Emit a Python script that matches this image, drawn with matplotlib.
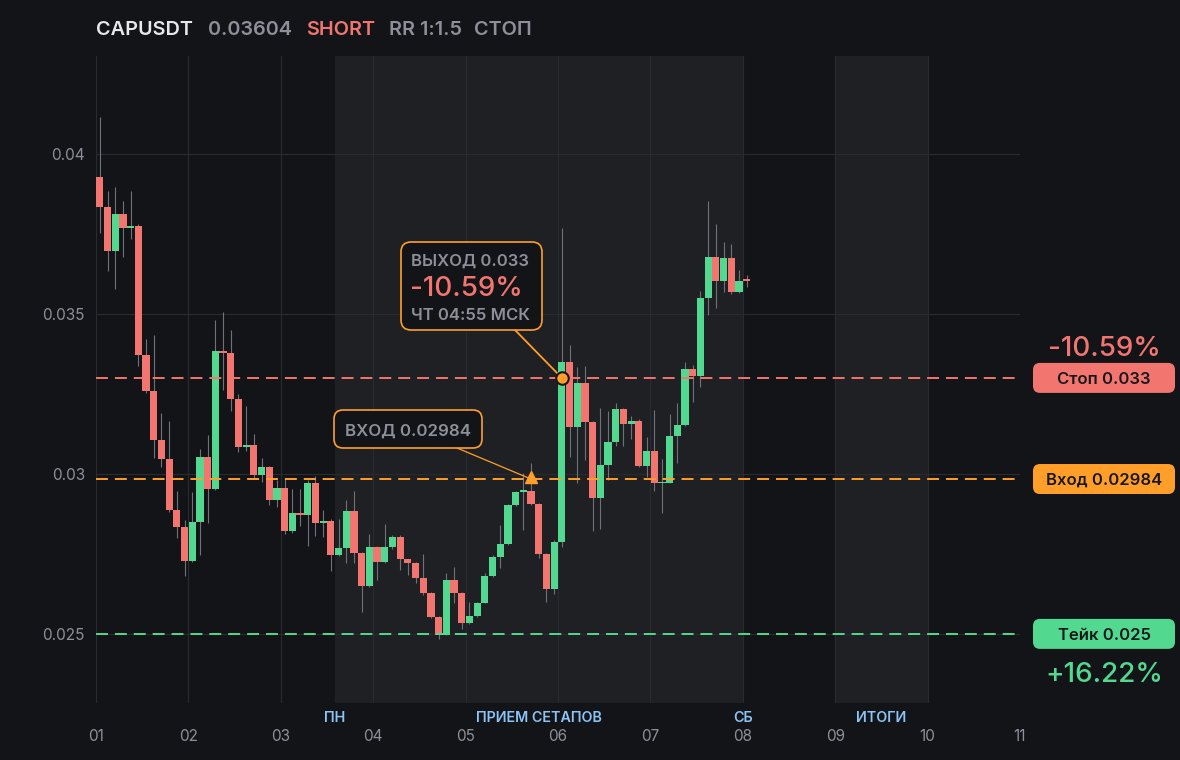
import numpy as np
import matplotlib
matplotlib.use("Agg")
import matplotlib.pyplot as plt
from matplotlib.patches import FancyBboxPatch
from matplotlib.transforms import IdentityTransform

plt.rcParams['font.family'] = ['Inter', 'DejaVu Sans']
plt.rcParams['lines.scale_dashes'] = False

# 2h candles, 12 per day, day 01 starts at x=1
opens = np.array([
    0.03928, 0.03833, 0.03698, 0.03813, 0.03770, 0.03774, 0.03373, 0.03260, 0.03107, 0.03045,
    0.02888, 0.02835, 0.02729, 0.02850, 0.03053, 0.02954, 0.03384, 0.03379, 0.03235, 0.03085,
    0.03091, 0.02997, 0.03022, 0.02917, 0.02956, 0.02820, 0.02878, 0.02870, 0.02972, 0.02848,
    0.02854, 0.02745, 0.02767, 0.02884, 0.02753, 0.02651, 0.02770, 0.02726, 0.02770, 0.02804,
    0.02733, 0.02721, 0.02674, 0.02627, 0.02554, 0.02497, 0.02668, 0.02629, 0.02535, 0.02556,
    0.02598, 0.02681, 0.02741, 0.02781, 0.02903, 0.02944, 0.02947, 0.02906, 0.02751, 0.02641,
    0.02788, 0.03350, 0.03145, 0.03284, 0.03163, 0.02926, 0.03028, 0.03100, 0.03203, 0.03157,
    0.03166, 0.03025, 0.03072, 0.02970, 0.02973, 0.03119, 0.03153, 0.03328, 0.03307, 0.03550,
    0.03678, 0.03604, 0.03675, 0.03570, 0.03608])
highs = np.array([
    0.04116, 0.03884, 0.03898, 0.03853, 0.03884, 0.03781, 0.03422, 0.03434, 0.03191, 0.03166,
    0.02947, 0.02856, 0.02944, 0.03078, 0.03120, 0.03481, 0.03506, 0.03450, 0.03250, 0.03213,
    0.03125, 0.03050, 0.03025, 0.02981, 0.02988, 0.02953, 0.02953, 0.02981, 0.02994, 0.02888,
    0.02860, 0.02859, 0.02919, 0.02945, 0.02755, 0.02812, 0.02775, 0.02843, 0.02808, 0.02808,
    0.02735, 0.02725, 0.02749, 0.02630, 0.02556, 0.02690, 0.02710, 0.02632, 0.02601, 0.02600,
    0.02691, 0.02745, 0.02841, 0.02906, 0.02947, 0.03004, 0.03035, 0.02910, 0.02753, 0.02794,
    0.03768, 0.03403, 0.03334, 0.03338, 0.03166, 0.03205, 0.03197, 0.03222, 0.03206, 0.03181,
    0.03172, 0.03116, 0.03200, 0.03047, 0.03188, 0.03221, 0.03350, 0.03341, 0.03572, 0.03853,
    0.03781, 0.03725, 0.03719, 0.03638, 0.03622])
lows = np.array([
    0.03752, 0.03635, 0.03579, 0.03679, 0.03735, 0.03338, 0.03254, 0.03051, 0.03023, 0.02882,
    0.02801, 0.02682, 0.02725, 0.02745, 0.02845, 0.02950, 0.03263, 0.03195, 0.03067, 0.03072,
    0.02988, 0.02976, 0.02903, 0.02898, 0.02813, 0.02815, 0.02838, 0.02775, 0.02806, 0.02804,
    0.02698, 0.02742, 0.02722, 0.02721, 0.02569, 0.02645, 0.02669, 0.02720, 0.02765, 0.02700,
    0.02684, 0.02658, 0.02622, 0.02550, 0.02483, 0.02495, 0.02596, 0.02515, 0.02532, 0.02553,
    0.02595, 0.02678, 0.02705, 0.02778, 0.02900, 0.02825, 0.02903, 0.02737, 0.02601, 0.02625,
    0.02773, 0.03054, 0.02971, 0.03044, 0.02820, 0.02828, 0.02981, 0.03088, 0.03088, 0.03110,
    0.03020, 0.02991, 0.02948, 0.02877, 0.02970, 0.03035, 0.03150, 0.03226, 0.03270, 0.03498,
    0.03517, 0.03567, 0.03563, 0.03565, 0.03585])
closes = np.array([
    0.03833, 0.03698, 0.03813, 0.03770, 0.03774, 0.03373, 0.03260, 0.03107, 0.03045, 0.02888,
    0.02835, 0.02729, 0.02850, 0.03053, 0.02954, 0.03384, 0.03379, 0.03235, 0.03085, 0.03091,
    0.02997, 0.03022, 0.02917, 0.02956, 0.02820, 0.02878, 0.02870, 0.02972, 0.02848, 0.02854,
    0.02745, 0.02767, 0.02884, 0.02753, 0.02651, 0.02770, 0.02726, 0.02770, 0.02804, 0.02733,
    0.02721, 0.02674, 0.02627, 0.02554, 0.02497, 0.02668, 0.02629, 0.02535, 0.02556, 0.02598,
    0.02681, 0.02741, 0.02781, 0.02903, 0.02944, 0.02947, 0.02906, 0.02751, 0.02641, 0.02788,
    0.03350, 0.03145, 0.03284, 0.03163, 0.02926, 0.03028, 0.03100, 0.03203, 0.03157, 0.03166,
    0.03025, 0.03072, 0.02970, 0.02973, 0.03119, 0.03153, 0.03328, 0.03307, 0.03550, 0.03678,
    0.03604, 0.03675, 0.03570, 0.03603, 0.03604])

first_day = 1.0
candle_step = 1 / 12
t = first_day + (np.arange(len(opens)) + 0.5) * candle_step

day_ticks = list(range(1, 12))
day_labels = ['01', '02', '03', '04', '05', '06', '07', '08', '09', '10', '11']
price_ticks = [0.025, 0.03, 0.035, 0.04]
price_labels = ['0.025', '0.03', '0.035', '0.04']

shaded_spans = [(1 + 31 / 12, 8.0), (9.0, 10.0)]
session_labels = ['ПН', 'ПРИЕМ СЕТАПОВ', 'СБ', 'ИТОГИ']
session_x = [3.587, 5.79, 8.0, 9.5]

stop_price = 0.033
entry_price = 0.02984
take_price = 0.025
entry_idx = 56
exit_idx = 60
stop_pct = '-10.59%'
take_pct = '+16.22%'

BG = '#131418'
SHADE = '#1f2024'
GRID = '#2a2b30'
GREEN = '#52d98f'
RED = '#f2766f'
ORANGE = '#ff9f2a'
GRAY = '#8d9099'
WICK = '#6f7279'
BLUE = '#8cc4f5'
DARK = '#17181c'

W, H = 1180, 760
fig = plt.figure(figsize=(W / 100, H / 100), dpi=100, facecolor=BG)
ax = fig.add_axes([96 / W, 1 - 703 / H, (1020 - 96) / W, (703 - 56) / H])
ax.set_facecolor(BG)
ax.set_xlim(1, 11)
ax.set_ylim(0.02284, 0.04306)

for x0, x1 in shaded_spans:
    ax.axvspan(x0, x1, color=SHADE, lw=0, zorder=0.5)

ax.set_xticks(day_ticks)
ax.set_xticklabels(day_labels)
ax.set_yticks(price_ticks)
ax.set_yticklabels(price_labels)
ax.grid(True, color=GRID, lw=0.8)
ax.tick_params(length=0, colors=GRAY, labelsize=11)
ax.tick_params(axis='x', pad=19)
ax.tick_params(axis='y', pad=8)
for s in ax.spines.values():
    s.set_visible(False)

# candles
up = closes >= opens
ax.vlines(t, lows, highs, color=WICK, lw=0.8, zorder=2)
bottoms = np.minimum(opens, closes)
heights = np.maximum(np.abs(closes - opens), 0.00006)
ax.bar(t, heights, bottom=bottoms, width=0.077, color=np.where(up, GREEN, RED),
       linewidth=0, zorder=3)

# levels
ax.axhline(stop_price, color=RED, lw=1.4, dashes=(8.6, 5), zorder=4)
ax.axhline(entry_price, color=ORANGE, lw=1.4, dashes=(8.6, 5), zorder=4)
ax.axhline(take_price, color=GREEN, lw=1.4, dashes=(8.6, 5), zorder=4)

# session labels under the axis
for lab, x in zip(session_labels, session_x):
    ax.text(x, -0.0225, lab, transform=ax.get_xaxis_transform(), ha='center', va='center',
            color=BLUE, fontsize=10.3, fontweight='semibold')

ident = IdentityTransform()


def py(price):
    return ax.transData.transform((1, price))[1]


# right side level tags
for price, text, color in [(stop_price, 'Стоп 0.033', RED),
                           (entry_price, 'Вход 0.02984', ORANGE),
                           (take_price, 'Тейк 0.025', GREEN)]:
    yc = py(price)
    fig.add_artist(FancyBboxPatch((1033, yc - 15), 142, 30, boxstyle='round,pad=0,rounding_size=7',
                                  transform=ident, facecolor=color, edgecolor='none'))
    fig.text(1104, yc - 1.5, text, transform=ident, ha='center', va='center',
             color=DARK, fontsize=12, fontweight='semibold')

fig.text(1104, py(stop_price) + 28.5, stop_pct, transform=ident, ha='center', va='center',
         color=RED, fontsize=20, fontweight='medium')
fig.text(1104, py(take_price) - 41, take_pct, transform=ident, ha='center', va='center',
         color=GREEN, fontsize=20, fontweight='medium')

# exit annotation
fig.add_artist(FancyBboxPatch((401, H - 330), 141, 88, boxstyle='round,pad=0,rounding_size=10',
                              transform=ident, facecolor=BG, edgecolor=ORANGE, lw=1.2, zorder=6))
fig.text(411, H - 261, 'ВЫХОД 0.033', transform=ident, ha='left', va='center',
         color=GRAY, fontsize=12, fontweight='semibold', zorder=7)
fig.text(410, H - 289, stop_pct, transform=ident, ha='left', va='center',
         color=RED, fontsize=20, fontweight='medium', zorder=7)
fig.text(411, H - 315, 'ЧТ 04:55 МСК', transform=ident, ha='left', va='center',
         color=GRAY, fontsize=12, fontweight='semibold', zorder=7)
ax.annotate('', xy=(t[exit_idx], stop_price), xycoords='data', xytext=(515, H - 330),
            textcoords='figure pixels',
            arrowprops=dict(arrowstyle='-', color=ORANGE, lw=1.3, shrinkA=0, shrinkB=0), zorder=6)
ax.plot(t[exit_idx], stop_price, 'o', ms=9, mfc=ORANGE, mec=DARK, mew=1.5, zorder=8, clip_on=False)

# entry annotation
fig.add_artist(FancyBboxPatch((334, H - 448), 148, 38, boxstyle='round,pad=0,rounding_size=9',
                              transform=ident, facecolor=BG, edgecolor=ORANGE, lw=1.2, zorder=6))
fig.text(408, H - 431, 'ВХОД 0.02984', transform=ident, ha='center', va='center',
         color=GRAY, fontsize=12.2, fontweight='semibold', zorder=7)
ax.annotate('', xy=(t[entry_idx], entry_price), xycoords='data', xytext=(457, H - 448),
            textcoords='figure pixels',
            arrowprops=dict(arrowstyle='-', color=ORANGE, lw=0.9, shrinkA=0, shrinkB=0), zorder=6)
ax.plot(t[entry_idx], entry_price + 0.00005, '^', ms=9, color=ORANGE, zorder=8)

# title row
for x, s, c in [(96, 'CAPUSDT', '#e8e8ea'), (208, '0.03604', GRAY), (306, 'SHORT', RED),
                (389, 'RR 1:1.5', GRAY), (474, 'СТОП', GRAY)]:
    fig.text(x, H - 30, s, transform=ident, ha='left', va='center', color=c,
             fontsize=14.3, fontweight='semibold')

fig.savefig('out.png', dpi=100, facecolor=BG)
